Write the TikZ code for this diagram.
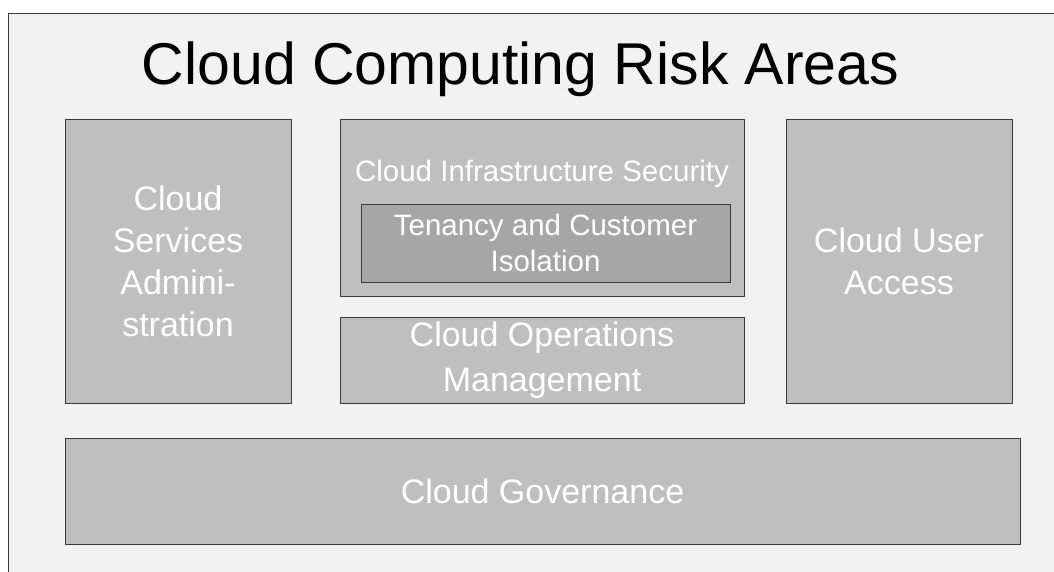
\documentclass[tikz,border=0pt]{standalone}
\usepackage{fontspec}
\setmainfont{Liberation Sans}
\definecolor{pagebg}{HTML}{F2F2F2}
\definecolor{boxfill}{HTML}{BFBFBF}
\definecolor{innerfill}{HTML}{A6A6A6}
\definecolor{boxline}{HTML}{3A3A3A}
\begin{document}
\begin{tikzpicture}[x=1pt,y=-1pt,
  riskbox/.style={draw=boxline, line width=0.9pt, fill=boxfill, inner sep=0pt, outer sep=0pt},
  innerbox/.style={draw=boxline, line width=0.9pt, fill=innerfill, inner sep=0pt, outer sep=0pt},
  bigtext/.style={text=white, align=center, font=\fontsize{34}{42}\selectfont},
  midtext/.style={text=white, align=center, font=\fontsize{29.5}{36}\selectfont}]
\useasboundingbox (0,0) rectangle (1054,571);
\clip (0,0) rectangle (1054,571);
\fill[white] (0,0) rectangle (1054,571);
\draw[draw=boxline, line width=0.9pt, fill=pagebg] (8.3,13.3) rectangle (1070,590);
% title
\node[anchor=base, font=\fontsize{59}{70}\selectfont] (title) at (520.5,84) {Cloud Computing Risk Areas};
% left box
\node[riskbox, minimum width=226, minimum height=284, bigtext] (csa) at (178,261)
  {Cloud\\Services\\Admini-\\stration};
% infrastructure security box
\node[riskbox, minimum width=404, minimum height=177] (cis) at (542,207.5) {};
\node[anchor=base, midtext] (cislbl) at (542,181) {Cloud Infrastructure Security};
\node[innerbox, minimum width=369, minimum height=78, midtext] (tci) at (545.5,243)
  {Tenancy and Customer\\Isolation};
% operations
\node[riskbox, minimum width=404, minimum height=86, bigtext, font=\fontsize{34}{45}\selectfont] (com) at (542,360)
  {Cloud Operations\\Management};
% user access
\node[riskbox, minimum width=226, minimum height=284, bigtext] (cua) at (899,261)
  {Cloud User\\Access};
% governance
\node[riskbox, minimum width=955, minimum height=106, bigtext] (cg) at (542.5,491)
  {Cloud Governance};
\end{tikzpicture}
\end{document}
